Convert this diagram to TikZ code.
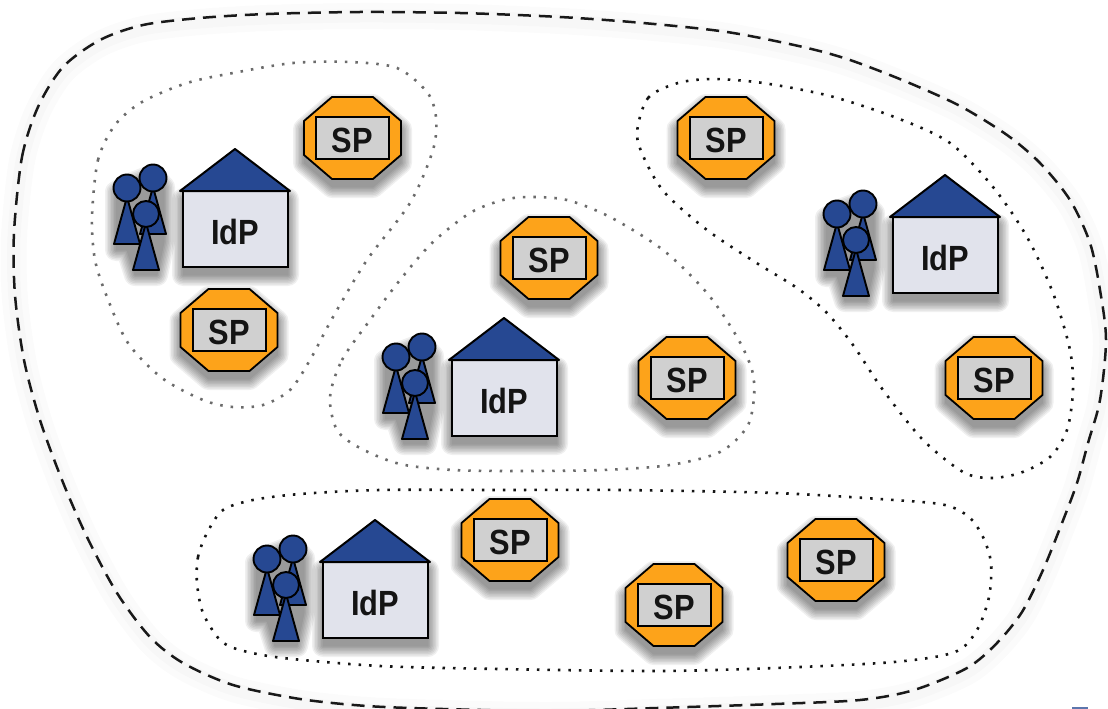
\documentclass[tikz,border=0pt]{standalone}
\usepackage{fontspec}
\setmainfont{Liberation Sans}[FakeStretch=0.88]
\definecolor{houseblue}{RGB}{38,72,146}
\definecolor{wallgrey}{RGB}{225,227,236}
\definecolor{sporange}{RGB}{253,163,26}
\definecolor{spgrey}{RGB}{208,208,208}
\newcommand{\softshadow}[1]{%
  \foreach \w in {1,4,7,10,13,16,19,22}{%
    \begin{scope}[transparency group,opacity=.06]
    \path[fill=black,draw=black,line width=\w pt,line join=round,shift={(0,8)}] #1;
    \end{scope}
  }}
\newcommand{\PersonAt}[3]{% head x, head y, radius
  \begin{scope}[shift={(#1,#2)}]
    \draw[figline] (0,9) -- (13,56) -- (-13,56) -- cycle;
    \draw[figline] (0,0) circle (#3);
  \end{scope}}
\tikzset{
  figline/.style={draw=black,line width=1.9pt,fill=houseblue,line join=round},
  lbl/.style={font=\fontsize{35}{35}\selectfont\bfseries,text=black!92,inner sep=0pt},
  outerline/.style={draw=black!90,line width=2.5pt,dash pattern=on 13pt off 8pt},
  dotgrey/.style={draw=black!58,line width=2.6pt,dash pattern=on 2.5pt off 8pt},
  dotblack/.style={draw=black!92,line width=2.6pt,dash pattern=on 2.5pt off 8pt},
  sppic/.pic={
    \softshadow{(-20.5,-41) -- (20.5,-41) -- (48.5,-17) -- (48.5,17) -- (20.5,41) -- (-20.5,41) -- (-48.5,17) -- (-48.5,-17) -- cycle}
    \draw[fill=sporange,draw=black,line width=1.8pt,line join=round] (-20.5,-41) -- (20.5,-41) -- (48.5,-17) -- (48.5,17) -- (20.5,41) -- (-20.5,41) -- (-48.5,17) -- (-48.5,-17) -- cycle;
    \draw[fill=spgrey,draw=black,line width=2pt] (-36.5,-21) rectangle (36.5,21);
    \node[lbl] (-t) at (0,2) {SP};
  },
  idppic/.pic={
    % origin = apex of the roof
    \softshadow{(-52,42) rectangle (53,118)}
    \softshadow{(-119,35) -- (-108,28) -- (-82,18) -- (-71,30) -- (-71,85) -- (-78,118) -- (-100,118) -- (-108,93) -- (-119,93) -- cycle}
    \draw[fill=wallgrey,draw=black,line width=2.2pt] (-52,42) rectangle (53,118);
    \draw[fill=houseblue,draw=black,line width=2pt,line join=round] (0,0) -- (55,42) -- (-55,42) -- cycle;
    \node[lbl] (-t) at (0,83) {IdP};
    \PersonAt{-82}{29}{13.5}
    \PersonAt{-108}{39}{13.5}
    \PersonAt{-89}{65}{13}
  }
}
\begin{document}
\begin{tikzpicture}[x=1pt,y=-1pt]
\useasboundingbox (0,0) rectangle (1108,709);
\fill[white] (0,0) rectangle (1108,709);
% outer boundary
\def\outerpts{(14,233)(22,157)(38,107)(63,67)(100,40)(143,25)(200,18)(267,14)(360,12)(460,13)(560,17)(643,23)(727,32)(803,47)(850,60)(907,82)(960,106)(1007,135)(1040,163)(1070,200)(1090,243)(1100,290)(1106,340)(1100,400)(1088,443)(1077,483)(1062,523)(1043,570)(1022,612)(997,643)(967,668)(914,690)(860,700)(775,704)(657,708)(550,711)(443,709)(367,706)(300,699)(233,685)(183,663)(150,637)(117,593)(87,537)(62,480)(40,420)(24,360)(15,295)}
\begin{scope}
\clip (0,0) rectangle (1108,709);
\draw[draw=black,draw opacity=.015,line width=26pt,shift={(0,4)}] plot[smooth cycle,tension=.5] coordinates {\outerpts};
\draw[draw=black,draw opacity=.015,line width=13pt,shift={(0,4)}] plot[smooth cycle,tension=.5] coordinates {\outerpts};
\draw[outerline] plot[smooth cycle,tension=.5] coordinates {\outerpts};
\end{scope}
% federations
\draw[dotgrey] plot[smooth cycle,tension=.5] coordinates {(92,217)(98,160)(115,125)(142,102)(187,83)(233,73)(293,63)(350,62)(397,68)(427,92)(436,117)(433,150)(410,203)(367,260)(333,317)(310,360)(290,390)(263,405)(233,407)(203,400)(162,378)(128,343)(107,297)(95,260)};
\draw[dotgrey] plot[smooth cycle,tension=.5] coordinates {(330,397)(342,360)(370,320)(400,280)(432,243)(470,213)(503,200)(530,197)(567,200)(610,217)(663,250)(707,293)(737,337)(752,370)(754,397)(747,427)(720,452)(670,465)(603,470)(520,471)(453,470)(400,464)(360,448)(337,430)};
\draw[dotblack] plot[smooth cycle,tension=.5] coordinates {(637,133)(648,98)(678,83)(713,79)(763,83)(830,96)(897,118)(950,143)(993,187)(1027,237)(1053,293)(1070,350)(1073,390)(1067,430)(1050,457)(1020,473)(990,478)(963,472)(923,440)(883,390)(853,345)(826,312)(797,288)(755,262)(707,230)(665,193)(645,160)};
\draw[dotblack] plot[smooth cycle,tension=.5] coordinates {(197,583)(198,557)(207,533)(223,510)(253,500)(300,494)(380,490)(500,490)(617,490)(775,493)(894,500)(945,505)(969,517)(983,537)(991,563)(989,597)(977,630)(955,652)(894,662)(775,668)(657,671)(499,669)(380,666)(283,658)(240,650)(220,640)(203,613)};
% identity providers
\pic (idpa) at (235,149) {idppic};
\pic (idpb) at (945,175) {idppic};
\pic (idpc) at (504,318) {idppic};
\pic (idpd) at (375,520) {idppic};
% service providers
\pic (spa) at (352.5,138) {sppic};
\pic (spb) at (229,330) {sppic};
\pic (spc) at (726,138) {sppic};
\pic (spd) at (994,378) {sppic};
\pic (spe) at (549,258) {sppic};
\pic (spf) at (687,378) {sppic};
\pic (spg) at (510,540) {sppic};
\pic (sph) at (674,605) {sppic};
\pic (spi) at (836,560) {sppic};
\fill[houseblue!75] (1072,707) rectangle (1088,709);
\end{tikzpicture}
\end{document}
